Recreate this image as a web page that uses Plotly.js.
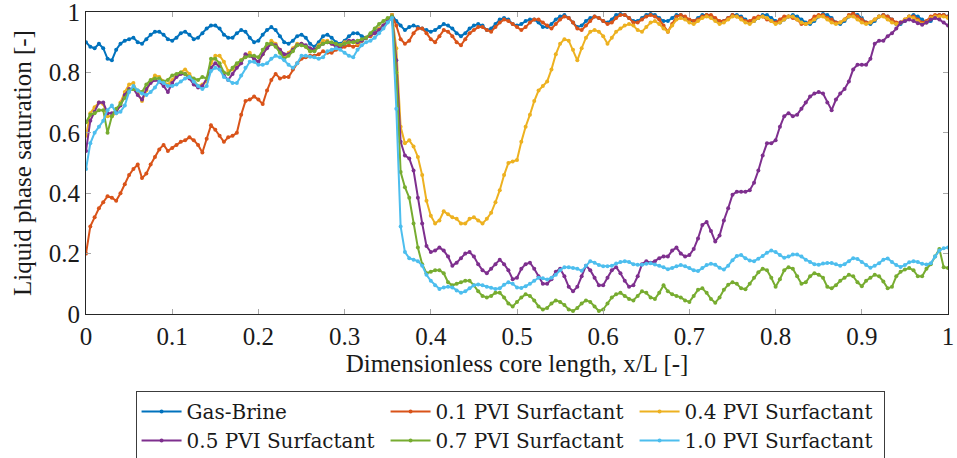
<!DOCTYPE html>
<html>
<head>
<meta charset="utf-8">
<script src="https://cdn.plot.ly/plotly-3.0.1.min.js"></script>
<style>
html,body{margin:0;padding:0;background:#fff;}
#chart{width:957px;height:458px;}
</style>
</head>
<body>
<div id="chart"></div>
<script>
// Dimensionless core length x/L
const xL = [
0,0.005,0.01,0.015,0.02,0.025,0.03,0.035,0.04,0.045,
0.05,0.055,0.06,0.065,0.07,0.075,0.08,0.085,0.09,0.095,
0.1,0.105,0.11,0.115,0.12,0.125,0.13,0.135,0.14,0.145,
0.15,0.155,0.16,0.165,0.17,0.175,0.18,0.185,0.19,0.195,
0.2,0.205,0.21,0.215,0.22,0.225,0.23,0.235,0.24,0.245,
0.25,0.255,0.26,0.265,0.27,0.275,0.28,0.285,0.29,0.295,
0.3,0.305,0.31,0.315,0.32,0.325,0.33,0.335,0.34,0.345,
0.35,0.355,0.36,0.365,0.37,0.375,0.38,0.385,0.39,0.395,
0.4,0.405,0.41,0.415,0.42,0.425,0.43,0.435,0.44,0.445,
0.45,0.455,0.46,0.465,0.47,0.475,0.48,0.485,0.49,0.495,
0.5,0.505,0.51,0.515,0.52,0.525,0.53,0.535,0.54,0.545,
0.55,0.555,0.56,0.565,0.57,0.575,0.58,0.585,0.59,0.595,
0.6,0.605,0.61,0.615,0.62,0.625,0.63,0.635,0.64,0.645,
0.65,0.655,0.66,0.665,0.67,0.675,0.68,0.685,0.69,0.695,
0.7,0.705,0.71,0.715,0.72,0.725,0.73,0.735,0.74,0.745,
0.75,0.755,0.76,0.765,0.77,0.775,0.78,0.785,0.79,0.795,
0.8,0.805,0.81,0.815,0.82,0.825,0.83,0.835,0.84,0.845,
0.85,0.855,0.86,0.865,0.87,0.875,0.88,0.885,0.89,0.895,
0.9,0.905,0.91,0.915,0.92,0.925,0.93,0.935,0.94,0.945,
0.95,0.955,0.96,0.965,0.97,0.975,0.98,0.985,0.99,0.995,
1
];

const gasBrine = [
0.90,0.885,0.88,0.895,0.88,0.845,0.84,0.875,0.895,0.905,
0.91,0.915,0.90,0.895,0.91,0.925,0.935,0.935,0.925,0.91,
0.905,0.915,0.93,0.935,0.925,0.91,0.915,0.93,0.945,0.955,
0.955,0.945,0.925,0.915,0.915,0.93,0.94,0.935,0.915,0.90,
0.905,0.925,0.94,0.95,0.94,0.92,0.90,0.895,0.905,0.92,
0.925,0.915,0.895,0.885,0.90,0.92,0.925,0.915,0.90,0.895,
0.905,0.92,0.93,0.93,0.92,0.915,0.925,0.935,0.945,0.955,
0.97,0.99,0.97,0.955,0.94,0.95,0.955,0.95,0.945,0.94,
0.935,0.94,0.95,0.96,0.955,0.945,0.93,0.92,0.93,0.945,
0.955,0.96,0.955,0.94,0.945,0.96,0.975,0.98,0.975,0.96,
0.955,0.96,0.97,0.975,0.975,0.965,0.95,0.95,0.96,0.975,
0.985,0.99,0.98,0.965,0.95,0.955,0.97,0.98,0.985,0.98,
0.97,0.965,0.975,0.99,0.993,0.99,0.98,0.97,0.97,0.98,
0.99,0.993,0.99,0.98,0.97,0.97,0.98,0.99,0.99,0.98,
0.97,0.97,0.98,0.99,0.99,0.985,0.975,0.965,0.97,0.98,
0.99,0.99,0.985,0.975,0.965,0.97,0.98,0.99,0.99,0.98,
0.97,0.965,0.975,0.985,0.99,0.985,0.975,0.965,0.96,0.97,
0.985,0.993,0.99,0.98,0.965,0.96,0.97,0.985,0.993,0.99,
0.98,0.965,0.96,0.97,0.985,0.99,0.985,0.975,0.96,0.96,
0.97,0.985,0.99,0.985,0.975,0.965,0.97,0.985,0.99,0.99,
0.985
];

const pvi01 = [
0.20,0.29,0.32,0.35,0.37,0.39,0.385,0.375,0.40,0.43,
0.46,0.48,0.495,0.45,0.465,0.495,0.52,0.545,0.56,0.54,
0.55,0.56,0.57,0.575,0.585,0.575,0.56,0.535,0.58,0.625,
0.61,0.59,0.57,0.585,0.59,0.60,0.66,0.705,0.71,0.72,
0.71,0.695,0.74,0.775,0.795,0.78,0.785,0.785,0.81,0.83,
0.845,0.85,0.855,0.855,0.86,0.87,0.865,0.865,0.875,0.88,
0.885,0.89,0.885,0.89,0.905,0.915,0.92,0.93,0.94,0.95,
0.97,0.99,0.955,0.91,0.895,0.905,0.93,0.945,0.945,0.93,
0.91,0.90,0.92,0.94,0.935,0.92,0.90,0.89,0.91,0.93,
0.94,0.95,0.95,0.94,0.935,0.95,0.965,0.975,0.97,0.96,
0.95,0.94,0.95,0.965,0.975,0.975,0.965,0.955,0.945,0.96,
0.975,0.985,0.98,0.965,0.945,0.94,0.955,0.97,0.985,0.98,
0.97,0.96,0.965,0.98,0.99,0.99,0.98,0.965,0.965,0.975,
0.985,0.99,0.985,0.975,0.955,0.935,0.96,0.985,0.99,0.985,
0.975,0.97,0.975,0.985,0.99,0.99,0.98,0.97,0.97,0.98,
0.99,0.985,0.98,0.97,0.97,0.98,0.985,0.985,0.975,0.97,
0.965,0.975,0.985,0.985,0.98,0.975,0.96,0.96,0.97,0.985,
0.99,0.99,0.98,0.975,0.965,0.965,0.975,0.99,0.995,0.985,
0.975,0.965,0.965,0.975,0.985,0.99,0.985,0.975,0.965,0.965,
0.975,0.985,0.985,0.975,0.965,0.97,0.985,0.99,0.99,0.99,
0.985
];

const pvi04 = [
0.59,0.665,0.685,0.70,0.695,0.655,0.655,0.665,0.70,0.735,
0.76,0.765,0.73,0.705,0.74,0.77,0.79,0.785,0.77,0.76,
0.775,0.79,0.80,0.81,0.795,0.775,0.755,0.76,0.77,0.83,
0.855,0.855,0.835,0.805,0.81,0.825,0.84,0.855,0.865,0.845,
0.835,0.86,0.885,0.905,0.895,0.875,0.85,0.865,0.88,0.895,
0.895,0.885,0.87,0.875,0.89,0.905,0.905,0.895,0.885,0.89,
0.90,0.905,0.90,0.895,0.905,0.915,0.925,0.93,0.945,0.955,
0.97,0.99,0.88,0.62,0.565,0.575,0.555,0.52,0.46,0.375,
0.325,0.30,0.31,0.34,0.33,0.32,0.315,0.30,0.30,0.315,
0.32,0.31,0.30,0.315,0.335,0.37,0.41,0.46,0.50,0.505,
0.51,0.57,0.62,0.66,0.705,0.74,0.755,0.77,0.81,0.86,
0.895,0.91,0.905,0.875,0.84,0.88,0.915,0.935,0.94,0.935,
0.92,0.895,0.915,0.935,0.945,0.955,0.96,0.955,0.94,0.935,
0.95,0.965,0.97,0.96,0.945,0.935,0.955,0.975,0.98,0.975,
0.965,0.96,0.97,0.98,0.985,0.98,0.97,0.96,0.965,0.975,
0.985,0.985,0.975,0.965,0.96,0.97,0.98,0.985,0.98,0.97,
0.96,0.965,0.975,0.985,0.985,0.975,0.965,0.96,0.965,0.975,
0.985,0.985,0.975,0.965,0.96,0.965,0.975,0.985,0.985,0.975,
0.965,0.96,0.965,0.975,0.985,0.985,0.975,0.965,0.96,0.965,
0.975,0.985,0.98,0.97,0.96,0.965,0.98,0.985,0.985,0.985,
0.98
];

const pvi05 = [
0.54,0.64,0.67,0.70,0.70,0.665,0.665,0.67,0.69,0.725,
0.745,0.745,0.725,0.71,0.745,0.765,0.775,0.77,0.755,0.735,
0.765,0.785,0.795,0.795,0.78,0.76,0.75,0.755,0.78,0.815,
0.83,0.82,0.79,0.775,0.795,0.815,0.83,0.86,0.855,0.845,
0.835,0.86,0.88,0.895,0.89,0.875,0.86,0.86,0.875,0.89,
0.895,0.89,0.88,0.875,0.885,0.895,0.90,0.895,0.885,0.885,
0.895,0.905,0.905,0.90,0.905,0.915,0.925,0.93,0.94,0.955,
0.97,0.985,0.84,0.57,0.525,0.515,0.475,0.385,0.30,0.225,
0.205,0.21,0.22,0.21,0.19,0.16,0.17,0.185,0.20,0.205,
0.19,0.165,0.145,0.135,0.15,0.165,0.18,0.165,0.145,0.115,
0.12,0.15,0.165,0.17,0.15,0.125,0.10,0.10,0.115,0.14,
0.15,0.125,0.09,0.075,0.09,0.125,0.16,0.145,0.12,0.095,
0.095,0.12,0.145,0.155,0.135,0.11,0.09,0.095,0.125,0.165,
0.175,0.17,0.175,0.185,0.19,0.19,0.21,0.22,0.20,0.19,
0.195,0.215,0.25,0.295,0.305,0.275,0.24,0.26,0.31,0.35,
0.395,0.405,0.405,0.405,0.41,0.435,0.475,0.525,0.565,0.565,
0.575,0.62,0.655,0.665,0.655,0.66,0.68,0.70,0.72,0.73,
0.735,0.73,0.70,0.675,0.71,0.73,0.745,0.77,0.81,0.825,
0.825,0.825,0.845,0.895,0.905,0.905,0.92,0.93,0.945,0.965,
0.97,0.975,0.97,0.963,0.958,0.965,0.975,0.98,0.975,0.965,
0.955
];

const pvi07 = [
0.635,0.66,0.665,0.675,0.675,0.60,0.655,0.68,0.695,0.715,
0.74,0.745,0.74,0.735,0.76,0.775,0.78,0.78,0.77,0.775,
0.79,0.795,0.80,0.795,0.785,0.78,0.775,0.785,0.78,0.845,
0.845,0.83,0.80,0.795,0.815,0.83,0.84,0.85,0.855,0.855,
0.85,0.875,0.895,0.895,0.885,0.865,0.845,0.855,0.87,0.89,
0.89,0.885,0.87,0.87,0.885,0.895,0.90,0.90,0.895,0.89,
0.895,0.90,0.90,0.905,0.91,0.915,0.93,0.945,0.96,0.97,
0.98,0.985,0.80,0.47,0.42,0.385,0.30,0.22,0.165,0.135,
0.14,0.145,0.145,0.135,0.105,0.095,0.10,0.105,0.11,0.11,
0.095,0.075,0.06,0.055,0.06,0.07,0.07,0.055,0.035,0.025,
0.04,0.055,0.065,0.06,0.045,0.025,0.015,0.02,0.035,0.045,
0.04,0.03,0.015,0.01,0.02,0.035,0.045,0.04,0.025,0.01,
0.015,0.035,0.055,0.065,0.07,0.06,0.05,0.045,0.06,0.075,
0.07,0.055,0.05,0.07,0.095,0.075,0.065,0.06,0.055,0.045,
0.04,0.06,0.08,0.085,0.07,0.05,0.037,0.055,0.08,0.097,
0.105,0.10,0.085,0.082,0.10,0.12,0.138,0.15,0.145,0.12,
0.09,0.115,0.145,0.155,0.15,0.125,0.10,0.105,0.125,0.135,
0.13,0.12,0.09,0.085,0.095,0.11,0.12,0.13,0.125,0.105,
0.092,0.11,0.12,0.13,0.125,0.108,0.085,0.09,0.125,0.14,
0.147,0.152,0.145,0.125,0.125,0.15,0.165,0.19,0.215,0.155,
0.152
];

const pvi10 = [
0.48,0.565,0.60,0.62,0.64,0.675,0.69,0.665,0.67,0.69,
0.735,0.755,0.74,0.73,0.725,0.735,0.75,0.77,0.765,0.755,
0.755,0.76,0.77,0.78,0.785,0.77,0.755,0.745,0.755,0.805,
0.815,0.81,0.785,0.775,0.765,0.765,0.79,0.815,0.835,0.835,
0.825,0.825,0.83,0.845,0.855,0.85,0.84,0.825,0.815,0.83,
0.855,0.855,0.852,0.85,0.845,0.85,0.87,0.875,0.88,0.875,
0.865,0.855,0.85,0.875,0.89,0.90,0.905,0.915,0.93,0.945,
0.965,0.98,0.68,0.29,0.205,0.185,0.18,0.175,0.16,0.13,
0.11,0.095,0.083,0.088,0.09,0.088,0.078,0.07,0.075,0.085,
0.095,0.098,0.095,0.09,0.087,0.083,0.085,0.097,0.105,0.10,
0.088,0.086,0.092,0.10,0.11,0.12,0.118,0.114,0.12,0.13,
0.145,0.155,0.155,0.152,0.15,0.143,0.16,0.175,0.17,0.162,
0.158,0.158,0.16,0.167,0.172,0.175,0.172,0.165,0.163,0.163,
0.166,0.168,0.164,0.16,0.155,0.148,0.152,0.158,0.162,0.158,
0.152,0.145,0.142,0.152,0.162,0.166,0.163,0.153,0.147,0.16,
0.178,0.192,0.195,0.185,0.177,0.175,0.183,0.192,0.203,0.21,
0.205,0.195,0.186,0.19,0.197,0.197,0.19,0.18,0.172,0.165,
0.163,0.167,0.169,0.169,0.165,0.16,0.165,0.175,0.185,0.182,
0.172,0.162,0.153,0.16,0.168,0.18,0.184,0.172,0.162,0.156,
0.162,0.171,0.175,0.172,0.166,0.164,0.168,0.19,0.21,0.218,
0.22
];

const seriesNames = ['Gas-Brine','0.1 PVI Surfactant','0.4 PVI Surfactant','0.5 PVI Surfactant','0.7 PVI Surfactant','1.0 PVI Surfactant'];
const seriesValues = [gasBrine, pvi01, pvi04, pvi05, pvi07, pvi10];
const seriesColors = ['#0072BD','#D95319','#EDB120','#7E2F8E','#77AC30','#4DBEEE'];

const xTickVals = [0,0.1,0.2,0.3,0.4,0.5,0.6,0.7,0.8,0.9,1];
const xTickText = ['0','0.1','0.2','0.3','0.4','0.5','0.6','0.7','0.8','0.9','1'];
const yTickVals = [0,0.2,0.4,0.6,0.8,1];
const yTickText = ['0','0.2','0.4','0.6','0.8','1'];

const traces = seriesValues.map((v,i)=>({
  type:'scatter', mode:'lines+markers', name:seriesNames[i],
  x:xL, y:v,
  line:{color:seriesColors[i], width:2},
  marker:{color:seriesColors[i], size:4},
  cliponaxis:true
}));

const font = 'Liberation Serif';
const legFont = 'DejaVu Serif';
const txt = '#1a1a1a';
const layout = {
  width:957, height:458,
  margin:{l:86, r:9, t:12, b:144, autoexpand:false},
  paper_bgcolor:'#ffffff', plot_bgcolor:'#ffffff',
  font:{family:font, size:25, color:txt},
  showlegend:true,
  xaxis:{
    range:[0,1], tickvals:xTickVals, ticktext:xTickText,
    ticks:'inside', ticklen:5, tickcolor:'#a8a8a8', tickwidth:1,
    showline:true, linecolor:'#262626', linewidth:1, mirror:'ticks',
    showgrid:false, zeroline:false, automargin:false, ticklabeloverflow:'allow',
    tickfont:{family:font, size:25, color:txt},
    title:{text:'Dimensionless core length, x/L [-]', font:{family:font, size:25, color:txt}, standoff:5}
  },
  yaxis:{
    range:[0,1], tickvals:yTickVals, ticktext:yTickText,
    ticks:'inside', ticklen:5, tickcolor:'#a8a8a8', tickwidth:1,
    showline:true, linecolor:'#262626', linewidth:1, mirror:'ticks',
    showgrid:false, zeroline:false, automargin:false, ticklabeloverflow:'allow',
    tickfont:{family:font, size:25, color:txt},
    title:{text:'Liquid phase saturation [-]', font:{family:font, size:25, color:txt}, standoff:10}
  },
  legend:{
    orientation:'h', x:0.0575, y:-0.255, xanchor:'left', yanchor:'top',
    bgcolor:'#ffffff', bordercolor:'#3c3c3c', borderwidth:1,
    font:{family:legFont, size:20, color:txt},
    itemwidth:40,
    entrywidth:194, entrywidthmode:'pixels', traceorder:'normal'
  },
  hovermode:false
};

Plotly.newPlot('chart', traces, layout, {staticPlot:true, displayModeBar:false});
</script>
</body>
</html>
